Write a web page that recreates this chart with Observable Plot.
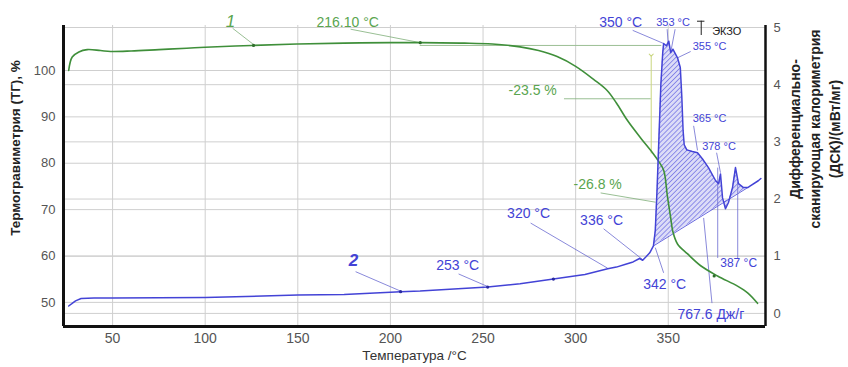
<!DOCTYPE html>
<html>
<head>
<meta charset="utf-8">
<script src="https://cdn.jsdelivr.net/npm/d3@7"></script>
<script src="https://cdn.jsdelivr.net/npm/@observablehq/plot@0.6"></script>
<style>
  body { margin: 0; background: #fff; }
  svg { display: block; }
</style>
</head>
<body>
<div id="chart"></div>
<script>
// Thermogravimetry (TG, %) curve 1
const tgTemp = [26.3, 28.2, 31.8, 36.3, 43.5, 48.9, 60, 75, 90, 100, 125, 150, 175, 200, 216.1, 240, 255, 270, 280, 290, 300, 310, 317, 322, 328, 335, 342, 345, 347.6, 349.5, 351.3, 352.4, 355, 360.3, 367.5, 376.6, 387.4, 393, 398.2];
const tgMass = [100.0, 102.9, 104.0, 104.5, 104.3, 104.1, 104.2, 104.5, 104.8, 105.0, 105.4, 105.7, 105.9, 106.0, 106.0, 105.9, 105.7, 105.1, 104.3, 103.0, 100.9, 98.0, 95.7, 93.0, 89.2, 85.5, 82.0, 80.3, 78.4, 73.0, 68.3, 65.4, 62.6, 60.5, 57.9, 55.7, 53.5, 52.0, 49.8];

// Differential scanning calorimetry (DSC, mW/mg) curve 2
const dscTemp = [26.3, 28, 30, 33, 40, 50, 100, 150, 175, 205.5, 216, 252.5, 270, 288, 305, 317.3, 322, 327, 331, 334.5, 336.2, 338, 340, 342, 343, 344, 345, 346, 347, 347.5, 349, 350.3, 351.3, 352.5, 355, 356.5, 357.3, 358, 358.6, 360, 363, 365.8, 368.5, 371.7, 375.6, 377.2, 378.2, 379.3, 380.9, 382.5, 384.7, 386.3, 387.9, 390.6, 392.9, 394.3, 398.6, 400];
const dscVal  = [0.13, 0.17, 0.22, 0.26, 0.27, 0.27, 0.28, 0.32, 0.33, 0.38, 0.39, 0.46, 0.52, 0.60, 0.68, 0.78, 0.81, 0.86, 0.90, 0.96, 0.93, 0.99, 1.06, 1.18, 1.45, 2.2, 3.1, 4.0, 4.55, 4.72, 4.68, 4.76, 4.56, 4.62, 4.47, 4.3, 3.8, 3.2, 2.95, 2.86, 2.83, 2.81, 2.70, 2.55, 2.32, 2.27, 2.44, 2.02, 1.83, 1.94, 2.20, 2.55, 2.27, 2.20, 2.20, 2.23, 2.32, 2.36];

// Peak integration range (767.6 J/g)
const peakStart = 342;
const peakEnd = 392.9;

// Axis ticks
const xTicks = [50, 100, 150, 200, 250, 300, 350];
const tgTicks = [50, 60, 70, 80, 90, 100];
const dscTicks = [0, 1, 2, 3, 4, 5];

const xDomain = [23.5, 402.5];
const yDomain = [44.8, 109.7];

// DSC values share the TG y scale through this linear map
const toPct = d => 47.62 + 12.33 * d;
const fromPct = p => (p - 47.62) / 12.33;

// Marker dots along the curves
const tgDots = [126.1, 216.1, 374.8];
const dscDots = [205.5, 252.5, 288];

// Blue annotations (°C, mW/mg)
const blueLabels = [
  {text: "2", x: 180.1, v: 0.93, size: 17, italic: true},
  {text: "253 °C", x: 236.3, v: 0.83, size: 14},
  {text: "320 °C", x: 274.6, v: 1.74, size: 14},
  {text: "336 °C", x: 314.0, v: 1.63, size: 14},
  {text: "342 °C", x: 348.1, v: 0.50, size: 14},
  {text: "350 °C", x: 324.3, v: 5.09, size: 14},
  {text: "353 °C", x: 352.6, v: 5.08, size: 11},
  {text: "355 °C", x: 372.3, v: 4.67, size: 11},
  {text: "365 °C", x: 372.3, v: 3.41, size: 11},
  {text: "378 °C", x: 377.4, v: 2.92, size: 11},
  {text: "387 °C", x: 388.0, v: 0.88, size: 12},
  {text: "767.6 Дж/г", x: 373.0, v: -0.02, size: 14}
];
const blueLeaders = [
  {x1: 181.2, v1: 0.73, x2: 205.5, v2: 0.39},
  {x1: 236.8, v1: 0.69, x2: 252.5, v2: 0.47},
  {x1: 275.7, v1: 1.58, x2: 317.3, v2: 0.79},
  {x1: 315.1, v1: 1.48, x2: 336.2, v2: 0.94},
  {x1: 347.5, v1: 0.71, x2: 343.0, v2: 1.15},
  {x1: 330.8, v1: 4.95, x2: 347.5, v2: 4.72},
  {x1: 349.4, v1: 4.97, x2: 350.0, v2: 4.70},
  {x1: 353.7, v1: 4.97, x2: 351.4, v2: 4.58},
  {x1: 362.1, v1: 4.58, x2: 355.0, v2: 4.47},
  {x1: 363.7, v1: 3.28, x2: 365.8, v2: 2.85},
  {x1: 376.1, v1: 2.81, x2: 378.2, v2: 2.46},
  {x1: 376.7, v1: 2.55, x2: 376.7, v2: 0.97},
  {x1: 387.5, v1: 2.30, x2: 387.5, v2: 0.97},
  {x1: 369.1, v1: 1.67, x2: 373.6, v2: 0.18}
];

// Green annotations (°C, %)
const greenLabels = [
  {text: "1", x: 113.7, m: 110.6, size: 17, italic: true},
  {text: "216.10 °C", x: 176.9, m: 110.4, size: 14},
  {text: "-23.5 %", x: 276.8, m: 95.7, size: 14},
  {text: "-26.8 %", x: 311.9, m: 75.4, size: 14}
];
const greenLeaders = [
  {x1: 114.8, m1: 109.1, x2: 126.1, m2: 105.6},
  {x1: 178.5, m1: 108.9, x2: 216.1, m2: 106.0},
  {x1: 313.5, m1: 73.6, x2: 343.2, m2: 71.6},
  {x1: 293.7, m1: 93.9, x2: 340.5, m2: 93.9}
];
// Mass step guide lines
const stepLevels = [{x1: 216.1, x2: 346.5, m: 105.4}];
const stepArrow = [{x: 340.8, m1: 103.2, m2: 82.0}];

// Exo direction marker
const exoMark = [{x: 367.8, v1: 4.86, v2: 5.11}];
const exoBar = [{x1: 365.8, x2: 369.8, v: 5.11}];

const blue = "#4343d6";
const green = "#3f8f3a";
const greenText = "#5aa54f";
const gridColor = "#cfcfcf";

const tg = tgTemp.map((t, i) => ({t, m: tgMass[i]}));
const dsc = dscTemp.map((t, i) => ({t, v: dscVal[i]}));

// Linear baseline under the exothermic peak, anchored on the curve itself
const vAt = t => {
  const i = d3.bisectLeft(dscTemp, t);
  if (dscTemp[i] === t) return dscVal[i];
  const a = i - 1, f = (t - dscTemp[a]) / (dscTemp[i] - dscTemp[a]);
  return dscVal[a] + f * (dscVal[i] - dscVal[a]);
};
const b0 = vAt(peakStart), b1 = vAt(peakEnd);
const peak = dsc
  .filter(d => d.t >= peakStart && d.t <= peakEnd)
  .map(d => ({t: d.t, top: d.v, base: b0 + (b1 - b0) * (d.t - peakStart) / (peakEnd - peakStart)}));

const font = "Liberation Sans, Arial, Helvetica, sans-serif";

const chart = Plot.plot({
  width: 848,
  height: 367,
  marginLeft: 63,
  marginRight: 83,
  marginTop: 25,
  marginBottom: 41,
  style: {fontFamily: font, fontSize: "13px", background: "#fff", overflow: "visible"},
  x: {domain: xDomain},
  y: {domain: yDomain},
  marks: [
    // grid
    Plot.ruleX(xTicks, {stroke: gridColor, strokeWidth: 1}),
    Plot.ruleY(tgTicks, {stroke: gridColor, strokeWidth: 1}),
    Plot.ruleY(dscTicks, {y: d => toPct(d), stroke: gridColor, strokeWidth: 1}),

    // mass step guides
    Plot.ruleY(stepLevels, {y: "m", x1: "x1", x2: "x2", stroke: "#9cbf94", strokeWidth: 1}),
    Plot.ruleX(stepArrow, {x: "x", y1: "m1", y2: "m2", stroke: "#c9d67e", strokeWidth: 1, markerStart: "arrow"}),

    // hatched peak area
    Plot.areaY(peak, {x: "t", y1: d => toPct(d.base), y2: d => toPct(d.top), fill: "url(#hatch)", curve: "linear"}),
    Plot.line(peak.filter((d, i) => i === 0 || i === peak.length - 1), {x: "t", y: d => toPct(d.base), stroke: blue, strokeWidth: 0.8}),

    // leaders
    Plot.link(blueLeaders, {x1: "x1", y1: d => toPct(d.v1), x2: "x2", y2: d => toPct(d.v2), stroke: "#6b6bd0", strokeWidth: 0.8}),
    Plot.link(greenLeaders, {x1: "x1", y1: "m1", x2: "x2", y2: "m2", stroke: "#7fae78", strokeWidth: 0.8}),

    // curves
    Plot.line(tg, {x: "t", y: "m", stroke: green, strokeWidth: 1.6, curve: "catmull-rom"}),
    Plot.line(dsc, {x: "t", y: d => toPct(d.v), stroke: blue, strokeWidth: 1.5, curve: "linear"}),
    Plot.dot(tgDots, {x: d => d, y: d => tg[d3.minIndex(tgTemp, t => Math.abs(t - d))].m, r: 1.6, fill: "#2f6f2c"}),
    Plot.dot(dscDots, {x: d => d, y: d => toPct(vAt(d)), r: 1.6, fill: "#2a2aa0"}),

    // exo marker
    Plot.ruleX(exoMark, {x: "x", y1: d => toPct(d.v1), y2: d => toPct(d.v2), stroke: "#222", strokeWidth: 1}),
    Plot.ruleY(exoBar, {y: d => toPct(d.v), x1: "x1", x2: "x2", stroke: "#222", strokeWidth: 1}),
    Plot.text(["ЭКЗО"], {x: 381.6, y: toPct(4.93), fontSize: 11, fill: "#222"}),

    // labels
    ...blueLabels.map(d => Plot.text([d], {x: "x", y: e => toPct(e.v), text: "text", fill: blue, fontSize: d.size, fontStyle: d.italic ? "italic" : "normal", fontWeight: d.italic ? "bold" : "normal"})),
    ...greenLabels.map(d => Plot.text([d], {x: "x", y: "m", text: "text", fill: greenText, fontSize: d.size, fontStyle: d.italic ? "italic" : "normal"})),

    // frame edges
    Plot.ruleX([xDomain[0]], {stroke: "#111", strokeWidth: 3}),
    Plot.ruleX([xDomain[1]], {stroke: "#111", strokeWidth: 2.5}),
    Plot.ruleY([yDomain[0]], {stroke: "#111", strokeWidth: 3}),

    // axes
    Plot.axisX(xTicks, {tickSize: 0, tickPadding: 7, fontSize: 14, color: "#555", label: null}),
    Plot.axisY(tgTicks, {anchor: "left", tickSize: 0, tickPadding: 8, fontSize: 13, color: "#555", label: null}),
    Plot.axisY(dscTicks.map(toPct), {anchor: "right", tickSize: 0, tickPadding: 8, fontSize: 13, color: "#555", label: null, tickFormat: d => Math.round(fromPct(d))}),

    // axis titles
    Plot.text(["Температура /°C"], {frameAnchor: "bottom", textAnchor: "middle", dy: 33, fontSize: 13.5, fill: "#333"}),
    Plot.text(["Термогравиметрия (ТГ), %"], {frameAnchor: "left", textAnchor: "middle", dx: -48, dy: -28, rotate: -90, fontSize: 13.5, fontWeight: "bold", fill: "#222"}),
    Plot.text(["Дифференциально-\nсканирующая калориметрия\n(ДСК)/(мВт/мг)"], {frameAnchor: "right", textAnchor: "middle", dx: 48, dy: -47, rotate: -90, fontSize: 14, fontWeight: "bold", fill: "#222", lineHeight: 1.45})
  ]
});

// diagonal hatch used by the peak area
const ns = "http://www.w3.org/2000/svg";
const defs = document.createElementNS(ns, "defs");
const pat = document.createElementNS(ns, "pattern");
pat.setAttribute("id", "hatch");
pat.setAttribute("patternUnits", "userSpaceOnUse");
pat.setAttribute("width", "3.5");
pat.setAttribute("height", "3.5");
pat.setAttribute("patternTransform", "rotate(45)");
const bg = document.createElementNS(ns, "rect");
bg.setAttribute("width", "3.5");
bg.setAttribute("height", "3.5");
bg.setAttribute("fill", "#dcdcf7");
const ln = document.createElementNS(ns, "line");
ln.setAttribute("x1", "0"); ln.setAttribute("y1", "0");
ln.setAttribute("x2", "0"); ln.setAttribute("y2", "3.5");
ln.setAttribute("stroke", "#5a5ae0");
ln.setAttribute("stroke-width", "1.2");
pat.appendChild(bg);
pat.appendChild(ln);
defs.appendChild(pat);
chart.insertBefore(defs, chart.firstChild);

document.getElementById("chart").appendChild(chart);
</script>
</body>
</html>
